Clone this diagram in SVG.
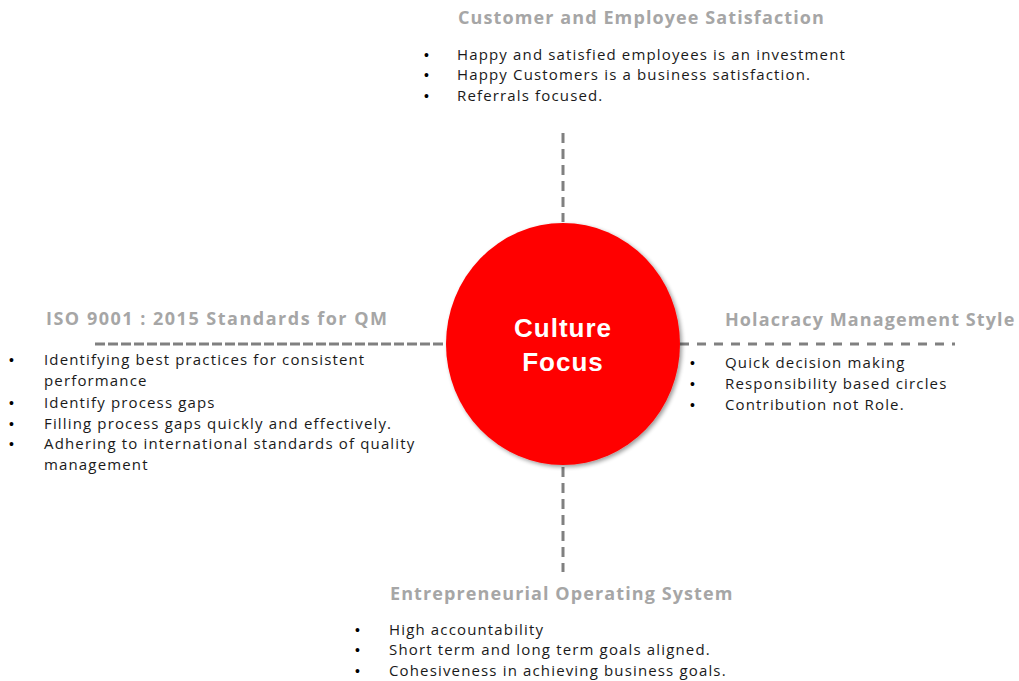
<svg xmlns="http://www.w3.org/2000/svg" width="1019" height="681" viewBox="0 0 1019 681">
<style>
.h{font-family:"Open Sans","Liberation Sans",sans-serif;font-weight:bold;font-size:18px;fill:#a6a6a6;letter-spacing:1.1px}
.t{font-family:"Open Sans","Liberation Sans",sans-serif;font-size:15px;fill:#1a1a1a;letter-spacing:1.15px}
.b{font-family:"Liberation Sans",sans-serif;font-size:14px;fill:#000}
.c{font-family:"Liberation Sans",Arial,sans-serif;font-weight:bold;font-size:26px;fill:#fff;text-anchor:middle;letter-spacing:1px}
.d{stroke:#808080;stroke-width:3;fill:none}
</style>
<defs>
<filter id="sh" x="-20%" y="-20%" width="140%" height="140%">
<feGaussianBlur in="SourceAlpha" stdDeviation="2"/>
<feOffset dx="2" dy="2"/>
<feComponentTransfer><feFuncA type="linear" slope="0.4"/></feComponentTransfer>
<feMerge><feMergeNode/><feMergeNode in="SourceGraphic"/></feMerge>
</filter>
</defs>
<rect width="1019" height="681" fill="#fff"/>
<g id="connectors">
<line class="d" x1="563" y1="133" x2="563" y2="222" stroke-dasharray="10,6"/>
<line class="d" x1="563" y1="467" x2="563" y2="572" stroke-dasharray="10,6"/>
<line class="d" x1="95" y1="344" x2="446" y2="344" stroke-dasharray="10,3"/>
<line class="d" x1="680" y1="344" x2="955" y2="344" stroke-dasharray="9,8"/>
</g>
<g id="center">
<ellipse cx="563" cy="344" rx="117" ry="121" fill="#ff0000" filter="url(#sh)"/>
<text class="c" x="563" y="337">Culture</text>
<text class="c" x="563" y="371">Focus</text>
</g>
<g id="top">
<text class="h" x="458" y="24">Customer and Employee Satisfaction</text>
<text class="b" x="424" y="60">•</text><text class="t" x="457" y="60">Happy and satisfied employees is an investment</text>
<text class="b" x="424" y="80">•</text><text class="t" x="457" y="80">Happy Customers is a business satisfaction.</text>
<text class="b" x="424" y="101">•</text><text class="t" x="457" y="101">Referrals focused.</text>
</g>
<g id="left">
<text class="h" x="46" y="325" style="letter-spacing:1.5px">ISO 9001 : 2015 Standards for QM</text>
<text class="b" x="9" y="365">•</text><text class="t" x="44" y="365">Identifying best practices for consistent</text>
<text class="t" x="44" y="386">performance</text>
<text class="b" x="9" y="408">•</text><text class="t" x="44" y="408">Identify process gaps</text>
<text class="b" x="9" y="429">•</text><text class="t" x="44" y="429">Filling process gaps quickly and effectively.</text>
<text class="b" x="9" y="449">•</text><text class="t" x="44" y="449">Adhering to international standards of quality</text>
<text class="t" x="44" y="470">management</text>
</g>
<g id="right">
<text class="h" x="725" y="326">Holacracy Management Style</text>
<text class="b" x="690" y="368">•</text><text class="t" x="725" y="368">Quick decision making</text>
<text class="b" x="690" y="389">•</text><text class="t" x="725" y="389">Responsibility based circles</text>
<text class="b" x="690" y="410">•</text><text class="t" x="725" y="410">Contribution not Role.</text>
</g>
<g id="bottom">
<text class="h" x="390" y="600">Entrepreneurial Operating System</text>
<text class="b" x="355" y="635">•</text><text class="t" x="389" y="635">High accountability</text>
<text class="b" x="355" y="655">•</text><text class="t" x="389" y="655">Short term and long term goals aligned.</text>
<text class="b" x="355" y="676">•</text><text class="t" x="389" y="676">Cohesiveness in achieving business goals.</text>
</g>
</svg>
